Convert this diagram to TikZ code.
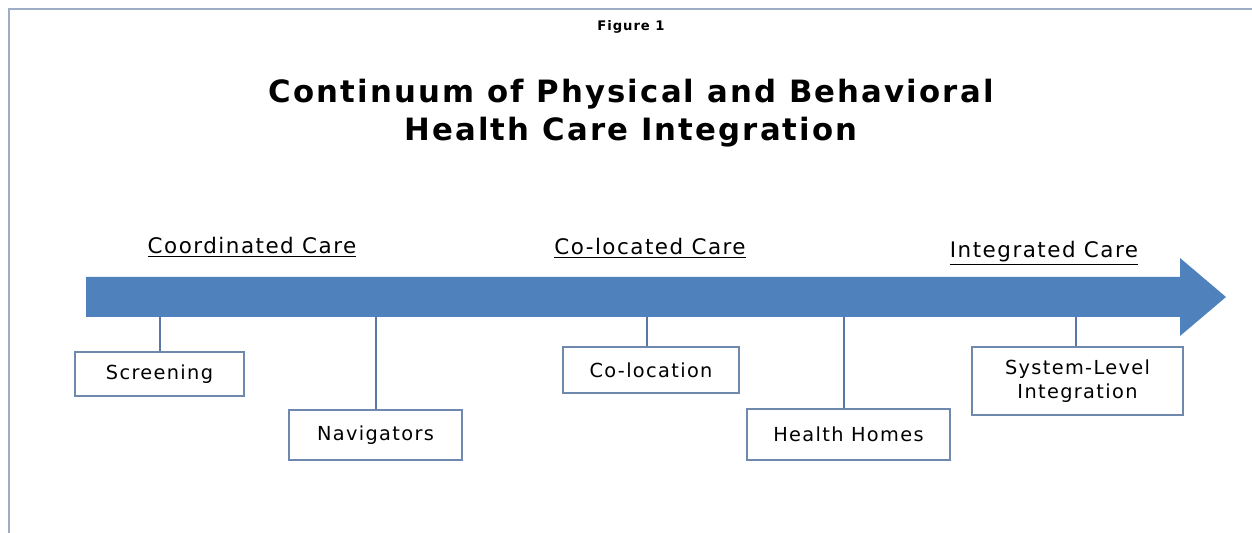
\documentclass[tikz,border=0pt]{standalone}
\usepackage{fontspec}
\setmainfont{DejaVu Sans}[LetterSpace=7]
\definecolor{barblue}{HTML}{4F81BD}
\definecolor{boxline}{HTML}{6F88AE}
\definecolor{stemline}{HTML}{5A78A6}
\definecolor{frameline}{HTML}{9DAEC4}
\begin{document}
\begin{tikzpicture}[x=0.02cm,y=-0.02cm]
    \tikzstyle{item}=[draw=boxline, line width=0.8pt, align=center, inner sep=0pt,
      font=\fontsize{11}{13.5}\selectfont]
    \tikzstyle{stage}=[font=\fontsize{12.2}{14}\selectfont]
    \tikzstyle{stem}=[draw=stemline, line width=0.8pt]

    \useasboundingbox (0,0) rectangle (1252,533);
    \draw[frameline, line width=1.2pt] (9,533) -- (9,9) -- (1252,9);

    \node[font=\bfseries\fontsize{7.5}{9}\selectfont] (fig) at (631,27) {Figure 1};
    \node[font=\bfseries\fontsize{17.5}{21.8}\selectfont, align=center] (title) at (631,113)
      {Continuum of Physical and Behavioral\\Health Care Integration};

    % the big arrow
    \fill[barblue] (86,277) -- (1180,277) -- (1180,258) -- (1226,297)
      -- (1180,336) -- (1180,317) -- (86,317) -- cycle;

    \node[stage] (coord) at (252,247) {\underline{Coordinated Care}};
    \node[stage] (coloc) at (650,248) {\underline{Co-located Care}};
    \node[stage] (integ) at (1044,253) {\underline{Integrated Care}};

    \node[item, minimum width=3.38cm, minimum height=0.88cm] (screen) at (159.5,374) {Screening};
    \node[item, minimum width=3.46cm, minimum height=1.0cm] (navig) at (375.5,435) {Navigators};
    \node[item, minimum width=3.52cm, minimum height=0.92cm] (coloca) at (651,370) {Co-location};
    \node[item, minimum width=4.06cm, minimum height=1.02cm] (homes) at (848.5,434.5) {Health Homes};
    \node[item, minimum width=4.22cm, minimum height=1.36cm] (system) at (1077.5,381) {System-Level\\Integration};

    \coordinate (b1) at (160,317);
    \coordinate (b2) at (376,317);
    \coordinate (b3) at (647,317);
    \coordinate (b4) at (844,317);
    \coordinate (b5) at (1076,317);

    \path[stem] (b1) -- (b1 |- screen.north);
    \path[stem] (b2) -- (b2 |- navig.north);
    \path[stem] (b3) -- (b3 |- coloca.north);
    \path[stem] (b4) -- (b4 |- homes.north);
    \path[stem] (b5) -- (b5 |- system.north);
\end{tikzpicture}
\end{document}
